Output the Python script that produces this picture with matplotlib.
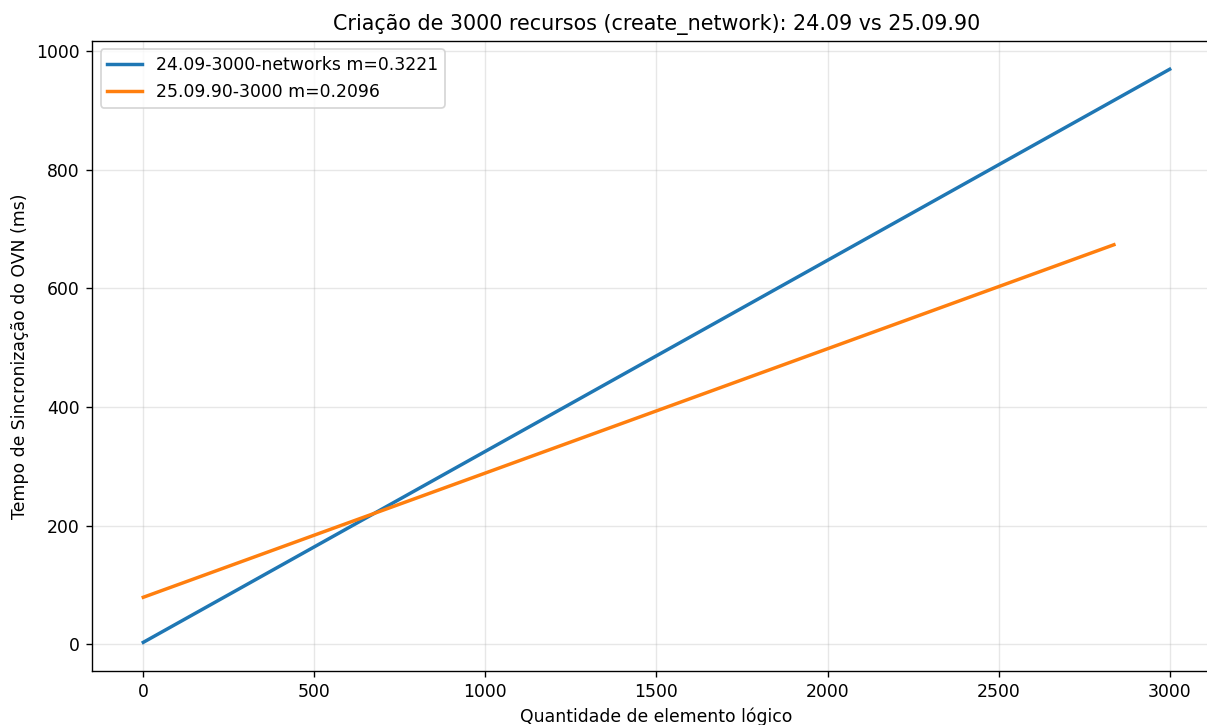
import matplotlib.pyplot as plt

# Retas ajustadas (tempo de sincronização vs quantidade de elementos)
x_2409 = [0, 3000]
y_2409 = [3, 969.6]
x_250990 = [0, 2837]
y_250990 = [79, 673.6]
label_2409 = "24.09-3000-networks m=0.3221"
label_250990 = "25.09.90-3000 m=0.2096"

dpi = 124
fig = plt.figure(figsize=(1207 / dpi, 725 / dpi), dpi=dpi)
ax = fig.add_axes([0.0762, 0.0745, 0.9354, 0.8695])
ax.plot(x_2409, y_2409, color="#1f77b4", linewidth=2.0, label=label_2409)
ax.plot(x_250990, y_250990, color="#ff7f0e", linewidth=2.0, label=label_250990)
ax.set_xlabel("Quantidade de elemento lógico")
ax.set_ylabel("Tempo de Sincronização do OVN (ms)")
ax.set_title("Criação de 3000 recursos (create_network): 24.09 vs 25.09.90", fontsize=12)
ax.grid(True, alpha=0.3)
ax.spines["right"].set_visible(False)
ax.legend(loc="upper left")
fig.savefig("out.png", dpi=dpi)
plt.close(fig)
